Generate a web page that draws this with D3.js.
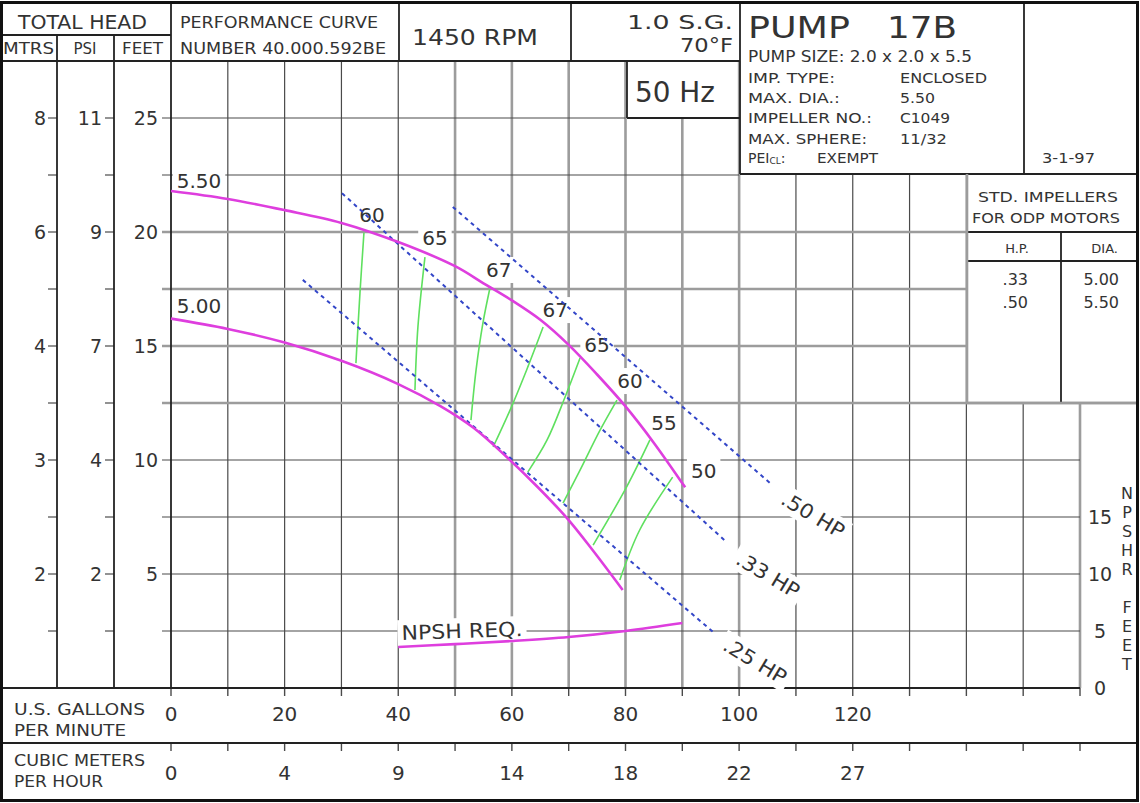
<!DOCTYPE html>
<html lang="en">
<head>
<meta charset="UTF-8">
<title>Pump 17B performance curve</title>
<script src="https://cdn.jsdelivr.net/npm/d3@7"></script>
<style>
    body{ margin:0; background:#fff; }
    svg{ display:block; font-family:"DejaVu Sans", Verdana, sans-serif; }
</style>
</head>
<body>
<script type="text/javascript">

    // axis labels
    let gpmTicks = [0, 20, 40, 60, 80, 100, 120];
    let cmhLabels = ["0", "4", "9", "14", "18", "22", "27"];
    let feetTicks = [25, 20, 15, 10, 5];
    let mtrsLabels = ["8", "6", "4", "3", "2"];
    let psiLabels = ["11", "9", "7", "4", "2"];
    let npshTicks = [0, 5, 10, 15];

    // head curves, [US gpm, feet]
    let imp550 = [[0, 21.8], [10, 21.45], [20, 20.96], [30, 20.4], [40, 19.56], [50, 18.5], [55, 17.75],
        [60, 17.0], [65, 16.15], [70, 15.05], [75, 13.75], [80, 12.35], [85, 10.75], [90.5, 8.8]];
    let imp500 = [[0, 16.2], [10, 15.75], [20, 15.15], [30, 14.35], [40, 13.33], [47.5, 12.35], [53.3, 11.4],
        [59, 10.15], [64.4, 8.85], [69.7, 7.45], [74.2, 6.05], [79.5, 4.3]];
    // NPSH required, [US gpm, NPSH feet]
    let npshReq = [[40, 3.6], [50, 3.85], [60, 4.12], [70, 4.47], [80, 5.0], [90, 5.7]];

    // horsepower lines
    let hpLabels = [".50 HP", ".33 HP", ".25 HP"];
    let hpLines = [
        [[49.6, 21.1], [105.4, 9.0]],
        [[30.1, 21.7], [97.8, 6.4]],
        [[23.2, 17.9], [95.4, 2.46]]
    ];

    // efficiency lines
    let effLabels = ["60", "65", "67", "67", "65", "60", "55", "50"];
    let effLines = [
        [[33.96, 19.96], [33.26, 17.32], [32.55, 14.25]],
        [[44.7, 18.9], [43.46, 15.83], [42.94, 13.07]],
        [[56.1, 17.5], [54.9, 16.0], [53.7, 13.95], [52.8, 11.75]],
        [[65.5, 15.83], [62.6, 13.95], [59.7, 12.2], [56.7, 10.57]],
        [[72.0, 14.47], [69.3, 12.72], [66.2, 10.88], [62.8, 9.47]],
        [[78.5, 12.63], [75.5, 11.3], [72.0, 9.56], [69.0, 8.11]],
        [[84.3, 10.88], [80.2, 8.82], [74.3, 6.27]],
        [[88.3, 9.25], [82.5, 6.93], [79.0, 4.74]]
    ];

    let impTableHp = [".33", ".50"];
    let impTableDia = ["5.00", "5.50"];

    let ink = "#333", dark = "#4a4a4a", grey = "#9c9c9c";

    let svg = d3.select("body").append("svg")
        .attr("width", 1140)
        .attr("height", 803);

    let x = d3.scaleLinear().domain([0, 160]).range([171, 1080]);
    let y = d3.scaleLinear().domain([0, 27.5]).range([688, 61]);
    let yN = d3.scaleLinear().domain([0, 5]).range([688, 631]);

    let gridG = svg.append("g");
    let frameG = svg.append("g");
    let labelG = svg.append("g");
    let curveG = svg.append("g");
    let textG = svg.append("g");

    function txt(g, s, px, py, size, anchor, len) {
        let t = g.append("text")
            .attr("x", px).attr("y", py)
            .attr("font-size", size)
            .attr("fill", ink)
            .attr("text-anchor", anchor || "start")
            .text(s);
        if (len) t.attr("textLength", len).attr("lengthAdjust", "spacingAndGlyphs");
        return t;
    }

    // label with white box behind it, cutting the grid
    function boxed(s, px, py, size, rot, len) {
        let g = labelG.append("g").attr("transform", `translate(${px},${py}) rotate(${rot || 0})`);
        let t = txt(g, s, 0, 0, size, "middle", len).attr("dominant-baseline", "central");
        let b = t.node().getBBox();
        g.insert("rect", "text")
            .attr("x", b.x - 4).attr("y", b.y - 1)
            .attr("width", b.width + 8).attr("height", b.height + 2)
            .attr("fill", "#fff");
    }

    // grid
    let vLines = d3.range(10, 161, 10).map(g => {
        let top = 61;
        if (g == 90) top = 118;
        if (g >= 110 && g <= 140) top = 174;
        if (g >= 150) top = 403;
        return { g: g, top: top };
    });
    let isGreyV = d => (d.g >= 50 && d.g <= 100) || d.g == 160;
    gridG.selectAll(".v").data(vLines).join("line")
        .attr("x1", d => x(d.g)).attr("x2", d => x(d.g))
        .attr("y1", d => d.top).attr("y2", y(0))
        .attr("stroke", d => isGreyV(d) ? grey : dark)
        .attr("stroke-width", d => isGreyV(d) ? 2.6 : 1.2);

    let hLines = d3.range(2.5, 25.1, 2.5).map(f => {
        let right = x(160);
        if (f == 25) right = x(80);
        else if (f == 22.5) right = x(100);
        else if (f >= 15) right = x(140);
        else if (f == 12.5) right = 1137;
        return { f: f, right: right };
    });
    let isGreyH = d => d.f >= 12.5 && d.f <= 20;
    gridG.selectAll(".h").data(hLines).join("line")
        .attr("x1", x(0) - 9).attr("x2", d => d.right)
        .attr("y1", d => y(d.f)).attr("y2", d => y(d.f))
        .attr("stroke", d => isGreyH(d) ? grey : dark)
        .attr("stroke-width", d => isGreyH(d) ? 2.6 : 1.2);

    // left head scales
    let halfTicks = d3.range(2.5, 25.1, 2.5);
    [57, 114].forEach(cx => {
        gridG.selectAll(null).data(halfTicks).join("line")
            .attr("x1", cx - 9).attr("x2", cx)
            .attr("y1", d => y(d)).attr("y2", d => y(d))
            .attr("stroke", dark).attr("stroke-width", 1.2);
    });
    feetTicks.forEach((f, i) => {
        txt(textG, mtrsLabels[i], 46, y(f) + 7, 19, "end");
        txt(textG, psiLabels[i], 102, y(f) + 7, 19, "end");
        txt(textG, String(f), 158, y(f) + 7, 19, "end");
    });

    // bottom flow scales
    let flowTicks = d3.range(0, 161, 10);
    [688, 743].forEach(ty => {
        gridG.selectAll(null).data(flowTicks).join("line")
            .attr("x1", d => x(d)).attr("x2", d => x(d))
            .attr("y1", ty).attr("y2", ty + 8)
            .attr("stroke", dark).attr("stroke-width", 1.4);
    });
    gpmTicks.forEach((g, i) => {
        txt(textG, String(g), x(g), 721, 20, "middle");
        txt(textG, cmhLabels[i], x(g), 780, 20, "middle");
    });
    txt(textG, "U.S.  GALLONS", 14, 715, 16, "start", 131);
    txt(textG, "PER  MINUTE", 14, 736, 16, "start", 112);
    txt(textG, "CUBIC METERS", 14, 766, 16, "start", 131);
    txt(textG, "PER HOUR", 14, 787, 16, "start", 89);

    // NPSH scale
    npshTicks.forEach(n => {
        txt(textG, String(n), 1100, yN(n) + 7, 19, "middle");
    });
    "NPSHR".split("").forEach((c, i) => txt(textG, c, 1127, 499 + i * 19, 16, "middle"));
    "FEET".split("").forEach((c, i) => txt(textG, c, 1127, 613 + i * 19, 16, "middle"));

    // frame and cells
    let frame = [
        [0, 35, 171, 35], [0, 61, 740, 61], [57, 35, 57, 688], [114, 35, 114, 688], [171, 3, 171, 688],
        [399, 3, 399, 61], [571, 3, 571, 61], [740, 3, 740, 174], [627, 61, 627, 118], [627, 118, 740, 118],
        [740, 174, 1137, 174], [1024, 3, 1024, 174], [967, 232, 1137, 232], [967, 261, 1137, 261],
        [1061, 232, 1061, 403], [0, 688, 1080, 688], [0, 743, 1137, 743]
    ];
    frameG.selectAll(".f").data(frame).join("line")
        .attr("x1", d => d[0]).attr("y1", d => d[1]).attr("x2", d => d[2]).attr("y2", d => d[3])
        .attr("stroke", "#222").attr("stroke-width", 1.8);
    frameG.append("path")
        .attr("d", "M967,174 V403 H1137")
        .attr("fill", "none").attr("stroke", grey).attr("stroke-width", 2.6);
    frameG.append("rect")
        .attr("x", 1.5).attr("y", 2.5).attr("width", 1136).attr("height", 798)
        .attr("fill", "none").attr("stroke", "#111").attr("stroke-width", 3);

    // header text
    txt(textG, "TOTAL HEAD", 18, 29, 19, "start", 129);
    txt(textG, "MTRS", 3, 54, 15, "start", 51);
    txt(textG, "PSI", 85, 54, 15, "middle");
    txt(textG, "FEET", 122, 54, 15, "start", 41);
    txt(textG, "PERFORMANCE  CURVE", 180, 28, 16, "start", 198);
    txt(textG, "NUMBER  40.000.592BE", 180, 54, 16, "start", 206);
    txt(textG, "1450  RPM", 412, 45, 22, "start", 126);
    txt(textG, "1.0 S.G.", 733, 29, 19, "end", 106);
    txt(textG, "70°F", 733, 52, 19, "end", 53);
    txt(textG, "50 Hz", 635, 102, 28, "start", 80);

    txt(textG, "PUMP", 748, 38, 31, "start", 102);
    txt(textG, "17B", 887, 38, 31, "start", 70);
    txt(textG, "PUMP SIZE: 2.0 x 2.0 x 5.5", 748, 62, 15, "start", 224);
    txt(textG, "IMP. TYPE:", 748, 83, 14, "start", 87);
    txt(textG, "ENCLOSED", 900, 83, 14, "start", 87);
    txt(textG, "MAX. DIA.:", 748, 103, 14, "start", 92);
    txt(textG, "5.50", 900, 103, 14, "start", 35);
    txt(textG, "IMPELLER NO.:", 748, 123, 14, "start", 124);
    txt(textG, "C1049", 900, 123, 14, "start", 50);
    txt(textG, "MAX. SPHERE:", 748, 144, 14, "start", 119);
    txt(textG, "11/32", 900, 144, 14, "start", 47);
    let pei = txt(textG, "PEI", 748, 163, 14, "start");
    pei.append("tspan").attr("font-size", 9).attr("dy", 1).text("CL");
    pei.append("tspan").attr("dy", -1).text(":");
    txt(textG, "EXEMPT", 817, 163, 14, "start", 61);
    txt(textG, "3-1-97", 1042, 163, 14, "start", 53);

    txt(textG, "STD.  IMPELLERS", 978, 202, 14, "start", 140);
    txt(textG, "FOR ODP MOTORS", 972, 223, 14, "start", 148);
    txt(textG, "H.P.", 1017, 253, 13, "middle");
    txt(textG, "DIA.", 1118, 253, 13, "end");
    impTableHp.forEach((h, i) => txt(textG, h, 1028, 285 + i * 23, 16, "end"));
    impTableDia.forEach((d, i) => txt(textG, d, 1119, 285 + i * 23, 16, "end"));

    // boxed labels on the plot
    boxed("5.50", 199, 180.5, 20, 0);
    boxed("5.00", 199, 306, 20, 0);
    let effNudge = [[8, -18], [10, -19], [9, -19], [12, -17], [17, -13], [13, -19], [14, -17], [31, -6]];
    effLines.forEach((pts, i) => {
        boxed(effLabels[i], x(pts[0][0]) + effNudge[i][0], y(pts[0][1]) + effNudge[i][1], 20, 0);
    });
    let hpPos = [[813, 515], [768, 575], [755, 661]];
    hpLabels.forEach((s, i) => boxed(s, hpPos[i][0], hpPos[i][1], 20, 31, 70));
    boxed("NPSH REQ.", 462, 631, 20, -2, 121);

    // curves
    let line = d3.line()
        .x(d => x(d[0]))
        .y(d => y(d[1]))
        .curve(d3.curveCatmullRom);
    let lineN = d3.line()
        .x(d => x(d[0]))
        .y(d => yN(d[1]))
        .curve(d3.curveCatmullRom);

    curveG.selectAll(".eff").data(effLines).join("path")
        .attr("d", line)
        .attr("fill", "none").attr("stroke", "#5fe05f").attr("stroke-width", 1.6);

    curveG.selectAll(".hp").data(hpLines).join("path")
        .attr("d", d3.line().x(d => x(d[0])).y(d => y(d[1])))
        .attr("fill", "none").attr("stroke", "#3346c8")
        .attr("stroke-width", 2).attr("stroke-dasharray", "4,4");

    curveG.selectAll(".imp").data([imp550, imp500]).join("path")
        .attr("d", line)
        .attr("fill", "none").attr("stroke", "#de3ede").attr("stroke-width", 2.6);

    curveG.append("path")
        .datum(npshReq)
        .attr("d", lineN)
        .attr("fill", "none").attr("stroke", "#de3ede").attr("stroke-width", 2.6);

</script>
</body>
</html>
